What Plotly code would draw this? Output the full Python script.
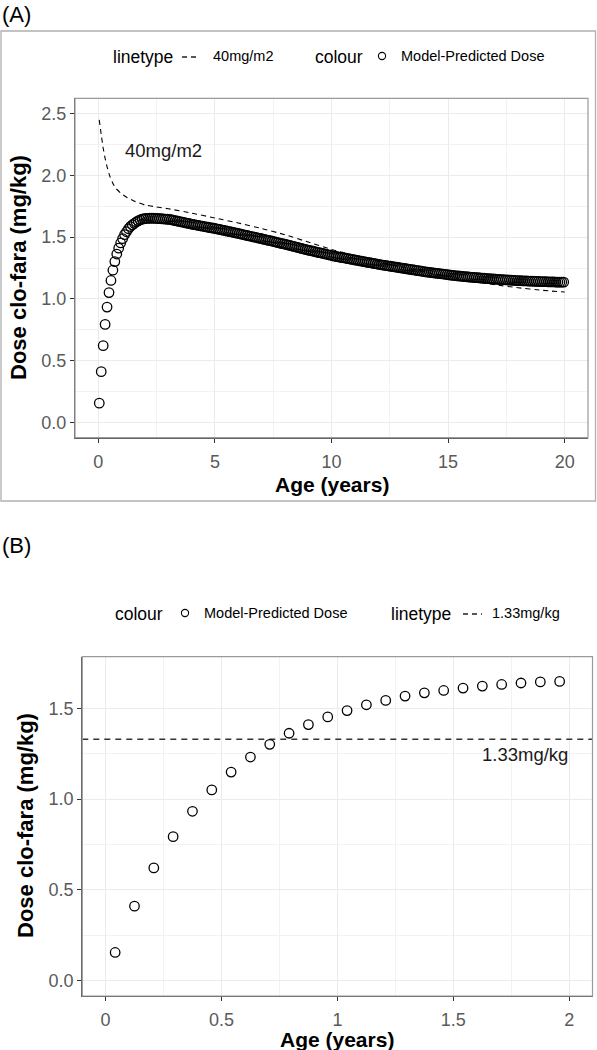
import plotly.graph_objects as go

W, H = 597, 1050
FONT = "Liberation Sans, Arial, sans-serif"

# ---------------- data ----------------
# monthly ages (mid-month), 0..20 years
ages = [round((m + 0.5) / 12, 4) for m in range(240)]

# model-predicted dose (mg/kg)
dose_pred = [
    # 0-2 years
    0.155, 0.410, 0.621, 0.793, 0.933, 1.051, 1.149, 1.232, 1.302, 1.363, 1.411, 1.453,
    1.488, 1.520, 1.544, 1.568, 1.586, 1.599, 1.612, 1.623, 1.632, 1.640, 1.646, 1.649,
    # 2-3
    1.651, 1.652, 1.653, 1.653, 1.653, 1.652, 1.651, 1.650, 1.649, 1.648, 1.646, 1.645,
    # 3-4
    1.644, 1.641, 1.638, 1.634, 1.631, 1.628, 1.624, 1.621, 1.618, 1.614, 1.611, 1.607,
    # 4-5
    1.604, 1.601, 1.598, 1.595, 1.592, 1.589, 1.586, 1.583, 1.580, 1.577, 1.574, 1.572,
    # 5-6
    1.569, 1.565, 1.562, 1.559, 1.555, 1.552, 1.549, 1.545, 1.542, 1.539, 1.535, 1.532,
    # 6-7
    1.528, 1.525, 1.521, 1.517, 1.514, 1.510, 1.507, 1.503, 1.500, 1.496, 1.492, 1.489,
    # 7-8
    1.485, 1.482, 1.478, 1.474, 1.471, 1.467, 1.463, 1.460, 1.456, 1.452, 1.448, 1.445,
    # 8-9
    1.441, 1.437, 1.433, 1.429, 1.425, 1.421, 1.417, 1.413, 1.409, 1.405, 1.401, 1.397,
    # 9-10
    1.393, 1.390, 1.386, 1.382, 1.379, 1.375, 1.372, 1.368, 1.364, 1.361, 1.357, 1.354,
    # 10-11
    1.349, 1.346, 1.343, 1.340, 1.337, 1.334, 1.332, 1.329, 1.326, 1.323, 1.320, 1.317,
    # 11-12
    1.314, 1.311, 1.308, 1.305, 1.302, 1.299, 1.296, 1.294, 1.291, 1.288, 1.285, 1.282,
    # 12-13
    1.279, 1.276, 1.274, 1.271, 1.269, 1.266, 1.264, 1.261, 1.259, 1.256, 1.254, 1.251,
    # 13-14
    1.249, 1.246, 1.244, 1.241, 1.239, 1.236, 1.234, 1.231, 1.229, 1.226, 1.224, 1.221,
    # 14-15
    1.219, 1.217, 1.215, 1.213, 1.211, 1.209, 1.207, 1.205, 1.203, 1.201, 1.199, 1.197,
    # 15-16
    1.194, 1.192, 1.190, 1.189, 1.187, 1.185, 1.184, 1.182, 1.180, 1.179, 1.177, 1.176,
    # 16-17
    1.174, 1.173, 1.172, 1.171, 1.169, 1.168, 1.167, 1.166, 1.164, 1.163, 1.162, 1.161,
    # 17-18
    1.159, 1.158, 1.157, 1.156, 1.155, 1.154, 1.153, 1.152, 1.151, 1.150, 1.149, 1.148,
    # 18-19
    1.147, 1.147, 1.146, 1.145, 1.145, 1.144, 1.143, 1.143, 1.142, 1.141, 1.141, 1.140,
    # 19-20
    1.140, 1.139, 1.139, 1.138, 1.138, 1.137, 1.137, 1.136, 1.136, 1.135, 1.135, 1.135,
]

# 40 mg/m2 reference dose (mg/kg)
ref_ages = [0.04, 0.125, 0.21, 0.29, 0.375, 0.5, 0.625, 0.75, 1.0, 1.25, 1.5, 2.0,
            2.5, 3, 4, 5, 6, 7, 8, 9, 10, 11, 12, 13, 14, 15, 16, 17, 18, 19, 20]
ref_40 = [2.45, 2.33, 2.22, 2.14, 2.07, 1.99, 1.935, 1.895, 1.85, 1.82, 1.795, 1.76,
          1.745, 1.73, 1.695, 1.655, 1.615, 1.57, 1.52, 1.46, 1.40, 1.35, 1.302,
          1.258, 1.218, 1.18, 1.145, 1.115, 1.09, 1.07, 1.055]

ref_133 = 1.33
b_months = 24  # panel B shows the first two years

xa_ticks = [0, 5, 10, 15, 20]
xa_minor = [2.5, 7.5, 12.5, 17.5]
ya_ticks = [0, 0.5, 1.0, 1.5, 2.0, 2.5]
ya_minor = [0.25, 0.75, 1.25, 1.75, 2.25]
xb_ticks = [0, 0.5, 1, 1.5, 2]
xb_minor = [0.25, 0.75, 1.25, 1.75]
yb_ticks = [0, 0.5, 1.0, 1.5]
yb_minor = [0.25, 0.75, 1.25]


def px(x):
    return x / W


def py(y):
    return 1 - y / H


fig = go.Figure()

# Panel A
fig.add_trace(go.Scatter(
    x=ref_ages, y=ref_40, mode="lines", xaxis="x", yaxis="y",
    line=dict(color="black", width=1.1, dash="5px,4px", shape="spline", smoothing=0.3),
    showlegend=False, hoverinfo="skip"))
fig.add_trace(go.Scatter(
    x=ages, y=dose_pred, mode="markers", xaxis="x", yaxis="y",
    marker=dict(symbol="circle-open", size=9.5, color="black", line=dict(width=1.3)),
    showlegend=False))

# Panel B
fig.add_trace(go.Scatter(
    x=[-0.1, 2.1], y=[ref_133, ref_133], mode="lines", xaxis="x2", yaxis="y2",
    line=dict(color="#333333", width=1.4, dash="6px,5px"),
    showlegend=False, hoverinfo="skip"))
fig.add_trace(go.Scatter(
    x=ages[:b_months], y=dose_pred[:b_months], mode="markers", xaxis="x2", yaxis="y2",
    marker=dict(symbol="circle-open", size=9.5, color="black", line=dict(width=1.3)),
    showlegend=False))

common_axis = dict(
    showgrid=True, gridcolor="#EBEBEB", gridwidth=1.1, zeroline=False,
    showline=True, linecolor="#555555", linewidth=1.2,
    ticks="outside", ticklen=4, tickcolor="#333333", tickwidth=1,
    tickfont=dict(family=FONT, size=18, color="#5A5A5A"),
)
minor_grid = dict(showgrid=True, gridcolor="#F2F2F2", gridwidth=0.6, ticks="")

fig.update_layout(
    width=W, height=H,
    margin=dict(l=0, r=0, t=0, b=0),
    paper_bgcolor="white", plot_bgcolor="white",
    font=dict(family=FONT, color="black"),
    xaxis=dict(common_axis, domain=[px(75), px(588)], anchor="y", range=[-1, 21],
               tickmode="array", tickvals=xa_ticks, ticklabelstandoff=4,
               minor=dict(minor_grid, tickmode="array", tickvals=xa_minor)),
    yaxis=dict(common_axis, domain=[py(437.7), py(98.3)], anchor="x", range=[-0.125, 2.625],
               tickmode="array", tickvals=ya_ticks, tickformat=".1f",
               minor=dict(minor_grid, tickmode="array", tickvals=ya_minor)),
    xaxis2=dict(common_axis, domain=[px(82.3), px(592.5)], anchor="y2", range=[-0.1, 2.1],
                tickmode="array", tickvals=xb_ticks, ticktext=["0", "0.5", "1", "1.5", "2"],
                ticklabelstandoff=3,
                minor=dict(minor_grid, tickmode="array", tickvals=xb_minor)),
    yaxis2=dict(common_axis, domain=[py(996), py(656.7)], anchor="x2", range=[-0.085, 1.785],
                tickmode="array", tickvals=yb_ticks, tickformat=".1f",
                minor=dict(minor_grid, tickmode="array", tickvals=yb_minor)),
)

shapes = []
# panel borders (light)
for xr, yr in [("x domain", "y domain"), ("x2 domain", "y2 domain")]:
    shapes.append(dict(type="rect", xref=xr, yref=yr, x0=0, x1=1, y0=0, y1=1,
                       line=dict(color="#9A9A9A", width=1.2), layer="above"))
# outer frame around panel A
shapes.append(dict(type="rect", xref="paper", yref="paper",
                   x0=px(1), x1=px(595.5), y0=py(501), y1=py(31),
                   line=dict(color="#B0B0B0", width=1.3)))

annotations = []


def text(x, y, s, size, xanchor="left", bold=False, color="black", angle=0):
    annotations.append(dict(
        x=px(x), y=py(y), xref="paper", yref="paper", text=("<b>%s</b>" % s) if bold else s,
        showarrow=False, xanchor=xanchor, yanchor="middle", textangle=angle,
        font=dict(family=FONT, size=size, color=color)))


def dash_key(x0, x1, y):
    shapes.append(dict(type="line", xref="paper", yref="paper",
                       x0=px(x0), x1=px(x1), y0=py(y), y1=py(y),
                       line=dict(color="#222222", width=1.4, dash="5px,4px")))


def circle_key(cx, cy, r=3.6):
    shapes.append(dict(type="circle", xref="paper", yref="paper",
                       x0=px(cx - r), x1=px(cx + r), y0=py(cy + r), y1=py(cy - r),
                       line=dict(color="black", width=1.1)))


# panel labels
text(0, 15, "(A)", 22)
text(0, 545, "(B)", 22)

# legend A
text(111, 57, "linetype", 17.5)
dash_key(182, 199, 57)
text(211, 56, "40mg/m2", 14.5)
text(313, 57, "colour", 17.5)
circle_key(382, 56)
text(399, 56, "Model-Predicted Dose", 14.5)

# legend B
text(113, 614, "colour", 17.5)
circle_key(185, 613)
text(202, 613, "Model-Predicted Dose", 14.5)
text(389, 614, "linetype", 17.5)
dash_key(463, 482, 614)
text(490, 613, "1.33mg/kg", 14.5)

# axis titles
text(331.5, 484, "Age (years)", 21, xanchor="center", bold=True)
text(18, 268, "Dose clo-fara (mg/kg)", 22, xanchor="center", bold=True, angle=-90)
text(337.5, 1039, "Age (years)", 21, xanchor="center", bold=True)
text(25, 826, "Dose clo-fara (mg/kg)", 22, xanchor="center", bold=True, angle=-90)

# in-plot labels (data coordinates)
annotations.append(dict(x=2.8, y=2.2, xref="x", yref="y", text="40mg/m2", showarrow=False,
                        font=dict(family=FONT, size=18.5, color="#1A1A1A")))
annotations.append(dict(x=1.81, y=1.245, xref="x2", yref="y2", text="1.33mg/kg",
                        showarrow=False, font=dict(family=FONT, size=18.5, color="#1A1A1A")))

fig.update_layout(shapes=shapes, annotations=annotations)
fig.write_html("out.html",
               config={"displayModeBar": False},
               post_script="document.body.style.margin='0';document.body.style.padding='0';")
